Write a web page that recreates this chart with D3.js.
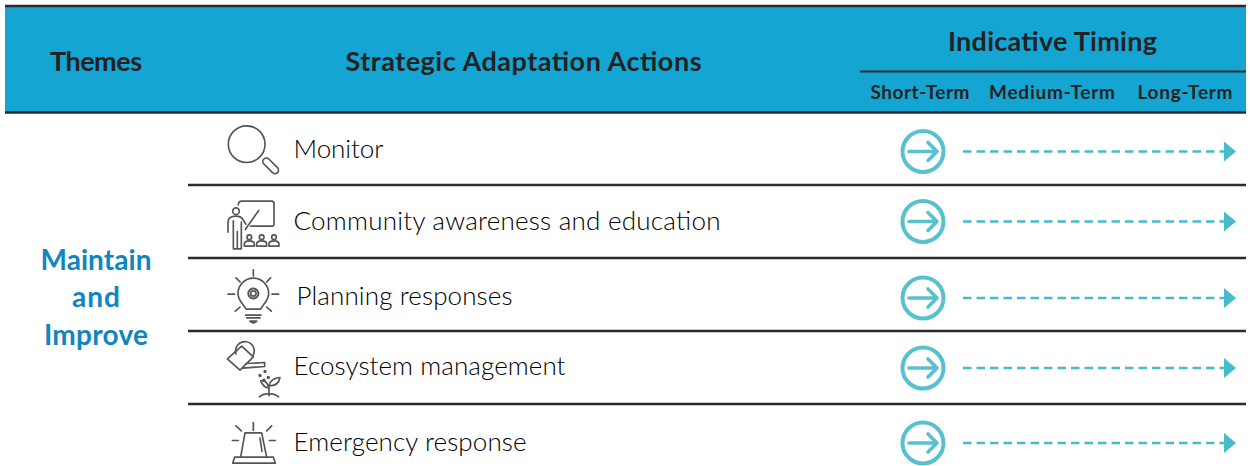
<!DOCTYPE html>
<html>
<head>
<meta charset="utf-8">
<script src="https://cdn.jsdelivr.net/npm/d3@7"></script>
<style>
    html, body { margin: 0; padding: 0; background: #fff; }
    svg { display: block; }
    text { font-family: Lato, "Open Sans", sans-serif; }
</style>
</head>
<body>
<div id="c"></div>
<script>
"use strict";

const themeLines = ["Maintain", "and", "Improve"]
const actions = ["Monitor", "Community awareness and education", "Planning responses", "Ecosystem management", "Emergency response"]
const terms = ["Short-Term", "Medium-Term", "Long-Term"]
const headers = ["Themes", "Strategic Adaptation Actions", "Indicative Timing"]
// every action runs over the whole period
const timingStart = ["Short-Term", "Short-Term", "Short-Term", "Short-Term", "Short-Term"]
const timingEnd = ["Long-Term", "Long-Term", "Long-Term", "Long-Term", "Long-Term"]

const width = 1250, height = 466
const blue = "#14a5d3", dark = "#2b2a2c", teal = "#46bccb", iconGrey = "#555"

const svg = d3.select("#c").append("svg").attr("width", width).attr("height", height)

const yRow = d3.scaleBand().domain(actions).range([112, 477])
const xTerm = d3.scaleOrdinal().domain(terms).range([920, 1052, 1185])
// the source table is not quite regular, small offsets per row
const textNudge = [0, -0.5, 1, -1.5, 1.5]
const textLeft = [293.5, 293.5, 296.5, 293.5, 293.5]
const arrowNudge = [3, 0, 3.5, 0.5, 2.5]

// header
svg.append("rect").attr("x", 5).attr("y", 6).attr("width", 1241).attr("height", 106).attr("fill", blue)
svg.append("line").attr("x1", 5).attr("x2", 1246).attr("y1", 6).attr("y2", 6).attr("stroke", dark).attr("stroke-width", 2.6)
svg.append("line").attr("x1", 5).attr("x2", 1246).attr("y1", 112.5).attr("y2", 112.5).attr("stroke", dark).attr("stroke-width", 2.6)
svg.append("line").attr("x1", 860).attr("x2", 1246).attr("y1", 71.5).attr("y2", 71.5).attr("stroke", dark).attr("stroke-width", 2.2)

const headX = [96, 523.5, 1052.5], headY = [71, 71, 51], headLen = [92, 356, 209]
svg.selectAll("text.head").data(headers).enter().append("text")
    .attr("class", "head")
    .attr("x", (d, i) => headX[i]).attr("y", (d, i) => headY[i])
    .attr("text-anchor", "middle")
    .attr("textLength", (d, i) => headLen[i])
    .attr("font-size", 27).attr("font-weight", 700).attr("fill", "#222")
    .text(d => d)

const termLen = [99, 126, 95]
svg.selectAll("text.term").data(terms).enter().append("text")
    .attr("class", "term")
    .attr("x", d => xTerm(d)).attr("y", 99)
    .attr("text-anchor", "middle")
    .attr("textLength", (d, i) => termLen[i])
    .attr("font-size", 19).attr("font-weight", 700).attr("fill", "#222")
    .text(d => d)

// theme cell
const themeLen = [111, 48, 104]
svg.selectAll("text.theme").data(themeLines).enter().append("text")
    .attr("class", "theme")
    .attr("x", 96).attr("y", (d, i) => 269.5 + i * 37.5)
    .attr("text-anchor", "middle")
    .attr("textLength", (d, i) => themeLen[i])
    .attr("font-size", 28).attr("font-weight", 700).attr("fill", "#0f86bf")
    .text(d => d)

// row separators
svg.selectAll("line.sep").data(actions.slice(1)).enter().append("line")
    .attr("class", "sep")
    .attr("x1", 188).attr("x2", 1246)
    .attr("y1", d => yRow(d)).attr("y2", d => yRow(d))
    .attr("stroke", dark).attr("stroke-width", 2.6)

const rowLen = [90, 427, 216, 272, 233]
const rows = svg.selectAll("g.row").data(actions).enter().append("g").attr("class", "row")
    .attr("transform", d => "translate(0," + (yRow(d) + yRow.bandwidth() / 2) + ")")

rows.append("text")
    .attr("x", (d, i) => textLeft[i]).attr("y", (d, i) => 9 + textNudge[i])
    .attr("textLength", (d, i) => rowLen[i])
    .attr("font-size", 26).attr("font-weight", 300).attr("fill", "#000")
    .text(d => d)

// timing arrows
const arrows = rows.append("g").attr("transform", (d, i) => "translate(0," + arrowNudge[i] + ")")
arrows.each(function(d, i) {
    const g = d3.select(this)
    const cx = xTerm(timingStart[i]) + 3
    const xEnd = xTerm(timingEnd[i]) + 51
    g.append("circle").attr("cx", cx).attr("cy", 0).attr("r", 20.5)
        .attr("fill", "#fff").attr("stroke", "#58c1cf").attr("stroke-width", 4)
    g.append("path").attr("d", "M" + (cx - 14) + ",0H" + (cx + 14) + "M" + (cx + 5) + ",-9L" + (cx + 14) + ",0L" + (cx + 5) + ",9")
        .attr("fill", "none").attr("stroke", "#58c1cf").attr("stroke-width", 3.6)
        .attr("stroke-linecap", "round").attr("stroke-linejoin", "round")
    g.append("line").attr("x1", cx + 40).attr("x2", xEnd - 11).attr("y1", 0).attr("y2", 0)
        .attr("stroke", teal).attr("stroke-width", 2.6).attr("stroke-dasharray", "8.5,5")
    g.append("path").attr("d", "M" + (xEnd - 12) + ",-10L" + xEnd + ",0L" + (xEnd - 12) + ",10Z").attr("fill", teal)
})

// icons, drawn at 3x and scaled down
const icons = rows.append("g").attr("transform", "translate(200,0) scale(0.3333)")
    .attr("fill", "none").attr("stroke", iconGrey).attr("stroke-width", 5)
    .attr("stroke-linecap", "round").attr("stroke-linejoin", "round")

const iconDraw = [
    g => {
        g.append("circle").attr("cx", 140).attr("cy", -13).attr("r", 55)
        g.append("line").attr("x1", 199).attr("y1", 39).attr("x2", 225).attr("y2", 65).attr("stroke-width", 26)
        g.append("line").attr("x1", 199).attr("y1", 39).attr("x2", 225).attr("y2", 65).attr("stroke", "#fff").attr("stroke-width", 16)
    },
    g => {
        g.append("path").attr("d", "M115,-50Q115,-61 125,-61H215Q222,-61 222,-54V8Q222,14 215,14H152")
        g.append("circle").attr("cx", 108).attr("cy", -31).attr("r", 10)
        g.append("path").attr("d", "M84,32V2Q84,-16 108,-16Q124,-16 130,-4L138,8M100,-2V82H112V30M112,82H124V2M136,24L176,-33")
        const xs = [148, 185, 222]
        xs.forEach(x => {
            g.append("circle").attr("cx", x).attr("cy", 47).attr("r", 7)
            g.append("path").attr("d", "M" + (x - 15) + ",74V68Q" + (x - 15) + ",58 " + x + ",58Q" + (x + 15) + ",58 " + (x + 15) + ",68V74Z")
        })
    },
    g => {
        g.append("path").attr("d", "M138,44C128,26 114,18 114,-3A46,46 0 1 1 206,-3C206,18 192,26 182,44Z")
        g.append("circle").attr("cx", 160).attr("cy", -3).attr("r", 8)
        g.append("circle").attr("cx", 160).attr("cy", -3).attr("r", 15).attr("stroke-dasharray", "6,3.5").attr("stroke-width", 6)
        g.append("path").attr("d", "M160,-74V-56M108,-50L120,-38M212,-50L200,-38M84,-1H104M216,-1H236M106,50L120,38M214,50L200,38M137,62H183M140,70H180M150,80Q160,90 170,80H150")
    },
    g => {
        g.append("path").attr("d", "M125,-64L82,-26L120,8L160,-32Z")
        g.append("path").attr("d", "M108,-41A28,28 0 1 1 158,-34")
        g.append("path").attr("d", "M138,-12L194,-15V-3L128,2")
        const drops = [[180, 24], [195, 12], [205, 30], [192, 38]]
        drops.forEach(p => g.append("circle").attr("cx", p[0]).attr("cy", p[1]).attr("r", 2.5).attr("fill", iconGrey))
        g.append("path").attr("d", "M207,85V55M207,62Q190,60 182,40Q200,36 207,62M207,55Q212,32 240,30Q236,55 207,55M178,88Q192,76 207,80Q222,76 236,88")
    },
    g => {
        g.append("path").attr("d", "M122,50L135,-23H185L200,50")
        g.append("path").attr("d", "M180,-7L186,33M104,50H220L226,68H98Z")
        g.append("path").attr("d", "M160,-54V-31M108,-44L124,-29M215,-44L200,-29M97,0H115M208,0H226")
    }
]
icons.each(function(d, i) { iconDraw[i](d3.select(this)) })
</script>
</body>
</html>
